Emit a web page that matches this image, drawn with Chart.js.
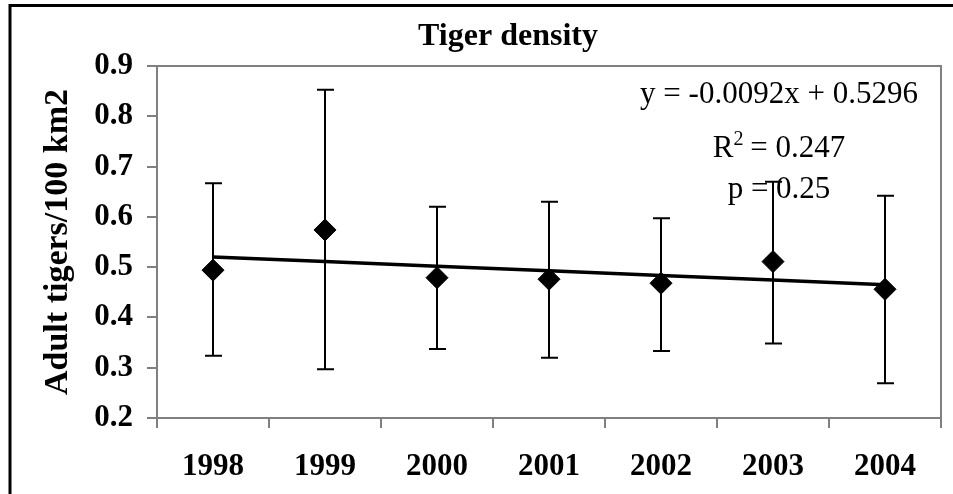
<!DOCTYPE html>
<html>
<head>
<meta charset="utf-8">
<script src="https://cdn.jsdelivr.net/npm/chart.js@4/dist/chart.umd.min.js"></script>
<style>
  html, body { margin: 0; padding: 0; background: #fff; }
  #wrap { width: 953px; height: 494px; position: relative; }
</style>
</head>
<body>
<div id="wrap"><canvas id="chart" width="953" height="494"></canvas></div>
<script>
// data
const years = ['1998', '1999', '2000', '2001', '2002', '2003', '2004'];
const density = [0.494, 0.574, 0.479, 0.476, 0.468, 0.511, 0.456];
const errTop = [0.667, 0.853, 0.620, 0.630, 0.597, 0.670, 0.642];
const errBottom = [0.324, 0.297, 0.337, 0.320, 0.333, 0.348, 0.269];
// linear fit y = -0.0092x + 0.5296
const trend = [0.5204, 0.5112, 0.5020, 0.4928, 0.4836, 0.4744, 0.4652];
const yTicks = [0.2, 0.3, 0.4, 0.5, 0.6, 0.7, 0.8, 0.9];
const chartTitle = 'Tiger density';

const serif = "'Liberation Serif', 'Times New Roman', serif";
const gray = '#808080';

// frame, title, plot border, equation text and error bars
const extras = {
    id: 'extras',
    beforeDraw(chart) {
        const ctx = chart.ctx;
        ctx.save();
        ctx.strokeStyle = '#000';
        ctx.lineWidth = 3;
        ctx.beginPath();
        ctx.moveTo(10, 494);
        ctx.lineTo(10, 5.5);
        ctx.lineTo(953, 5.5);
        ctx.stroke();

        // chart title (the frame is cropped on the right, so it sits off-centre)
        ctx.fillStyle = '#000';
        ctx.font = 'bold 32px ' + serif;
        ctx.textAlign = 'center';
        ctx.textBaseline = 'alphabetic';
        ctx.fillText(chartTitle, 508, 45);
        ctx.restore();
    },
    beforeDatasetsDraw(chart) {
        const ctx = chart.ctx;
        const area = chart.chartArea;
        const x = chart.scales.x;
        const y = chart.scales.y;

        ctx.save();
        // top + right border of plot area
        ctx.strokeStyle = gray;
        ctx.lineWidth = 2;
        ctx.beginPath();
        ctx.moveTo(area.left, area.top);
        ctx.lineTo(area.right, area.top);
        ctx.lineTo(area.right, area.bottom);
        ctx.stroke();

        // regression text
        const cx = area.right - 162;
        ctx.fillStyle = '#000';
        ctx.textAlign = 'center';
        ctx.textBaseline = 'alphabetic';
        ctx.font = '31px ' + serif;
        ctx.fillText('y = -0.0092x + 0.5296', cx, area.top + 37);
        const rW = ctx.measureText('R').width;
        const eqW = ctx.measureText(' = 0.247').width;
        const left2 = cx - (rW + 9 + eqW) / 2;
        ctx.textAlign = 'left';
        ctx.fillText('R', left2, area.top + 91);
        ctx.fillText(' = 0.247', left2 + rW + 9, area.top + 91);
        ctx.font = '20px ' + serif;
        ctx.fillText('2', left2 + rW, area.top + 79);
        ctx.font = '31px ' + serif;
        ctx.textAlign = 'center';
        ctx.fillText('p = 0.25', cx, area.top + 132);

        // error bars
        ctx.strokeStyle = '#000';
        ctx.lineWidth = 2;
        years.forEach((yr, i) => {
            const px = x.getPixelForValue(i);
            const t = y.getPixelForValue(errTop[i]);
            const b = y.getPixelForValue(errBottom[i]);
            ctx.beginPath();
            ctx.moveTo(px, t);
            ctx.lineTo(px, b);
            ctx.moveTo(px - 8, t);
            ctx.lineTo(px + 9, t);
            ctx.moveTo(px - 8, b);
            ctx.lineTo(px + 9, b);
            ctx.stroke();
        });
        ctx.restore();
    }
};

new Chart(document.getElementById('chart'), {
    type: 'line',
    data: {
        labels: years,
        datasets: [
            {
                label: 'Trend',
                data: trend,
                borderColor: '#000',
                borderWidth: 3.5,
                pointRadius: 0,
                fill: false,
                order: 2
            },
            {
                label: 'Tiger density',
                data: density,
                showLine: false,
                pointStyle: 'rectRot',
                pointRadius: 11,
                pointBackgroundColor: '#000',
                pointBorderColor: '#000',
                pointBorderWidth: 1,
                order: 1
            }
        ]
    },
    options: {
        responsive: false,
        animation: false,
        layout: { padding: { left: 0, right: 6, top: 66, bottom: 0 } },
        plugins: {
            legend: { display: false },
            tooltip: { enabled: false },
            title: { display: false }
        },
        scales: {
            x: {
                type: 'category',
                offset: true,
                grid: {
                    offset: true,
                    drawOnChartArea: false,
                    drawTicks: true,
                    tickLength: 10,
                    color: gray,
                    lineWidth: 2
                },
                border: { color: gray, width: 2 },
                ticks: {
                    color: '#000',
                    padding: 20,
                    maxRotation: 0,
                    font: { family: serif, size: 31, weight: 'bold', lineHeight: 1.2 }
                },
                afterFit(scale) { scale.height = 76; }
            },
            y: {
                min: 0.2,
                max: 0.9,
                afterBuildTicks(scale) {
                    scale.ticks = yTicks.map(v => ({ value: v }));
                },
                grid: {
                    drawOnChartArea: false,
                    drawTicks: true,
                    tickLength: 10,
                    color: gray,
                    lineWidth: 2
                },
                border: { color: gray, width: 2 },
                ticks: {
                    color: '#000',
                    padding: 14,
                    callback: v => v.toFixed(1),
                    font: { family: serif, size: 31, weight: 'bold', lineHeight: 1.2 }
                },
                title: {
                    display: true,
                    text: 'Adult tigers/100 km2',
                    color: '#000',
                    padding: { top: 38, bottom: 0 },
                    font: { family: serif, size: 34, weight: 'bold', lineHeight: 1.2 }
                },
                afterFit(scale) { scale.width = 157; }
            }
        }
    },
    plugins: [extras]
});
</script>
</body>
</html>
